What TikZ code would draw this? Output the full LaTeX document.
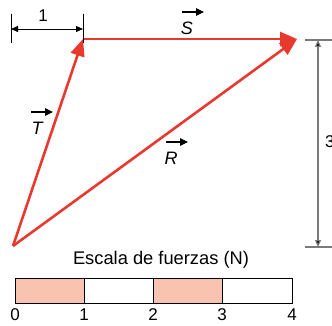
\documentclass[tikz,border=0pt]{standalone}
\usepackage{fontspec}
\setmainfont{Liberation Sans}
\usetikzlibrary{arrows.meta}
\definecolor{vred}{HTML}{E8392F}
\definecolor{barfill}{HTML}{F8C4B0}
\definecolor{dimgray}{HTML}{7A7A7A}
\tikzset{
  vec/.style={draw=vred, line width=2.6pt, -{Triangle[length=17pt,width=14pt]}},
  veclabel/.style={font=\fontsize{18}{18}\selectfont\itshape, inner sep=0pt},
  vecmark/.style={draw=black, line width=1.1pt, -{Triangle[length=8pt,width=7.5pt]}},
  dimline/.style={draw=black, line width=0.8pt, {Triangle[length=7pt,width=6pt]}-{Triangle[length=7pt,width=6pt]}},
  tick/.style={draw=black, line width=0.8pt},
  gtick/.style={draw=dimgray, line width=1.2pt},
  num/.style={font=\fontsize{17}{17}\selectfont, inner sep=0pt},
  cell/.style={draw=black, line width=1pt},
}
\begin{document}
\begin{tikzpicture}[x=1pt,y=-1pt]
\useasboundingbox (0,0) rectangle (332,326);
% main points
\coordinate (O) at (13,246);
\coordinate (A) at (83,39);
\coordinate (B) at (297,39);
% vectors
\draw[vec] (O) -- (A);
\draw[vec] (A) -- (B);
\draw[vec] (O) -- (B);
% labels
\node[veclabel] (T) at (37,128) {T};
\node[veclabel] (S) at (187,28) {S};
\node[veclabel] (R) at (171,158) {R};
\draw[vecmark] ([xshift=-6pt,yshift=16pt]T.center) -- ++(22,0);
\draw[vecmark] ([xshift=-5pt,yshift=16pt]S.center) -- ++(22,0);
\draw[vecmark] ([xshift=-5pt,yshift=16pt]R.center) -- ++(22,0);
% dimension 1
\coordinate (d1a) at (11,14);
\coordinate (d1b) at (11,43);
\coordinate (d2a) at (83,14);
\coordinate (d2b) at (83,43);
\draw[tick] (d1a) -- (d1b);
\draw[tick] (d2a) -- (d2b);
\coordinate (p1) at (11,29);
\coordinate (p2) at (83,29);
\draw[dimline] (p1) -- (p2);
\node[num] (one) at (43,16) {1};
% dimension 3
\coordinate (h1a) at (305,40);
\coordinate (h1b) at (332,40);
\coordinate (h2a) at (305,247);
\coordinate (h2b) at (332,247);
\draw[gtick] (h1a) -- (h1b);
\draw[gtick] (h2a) -- (h2b);
\coordinate (q1) at (318,40);
\coordinate (q2) at (318,247);
\draw[dimline, draw=dimgray, line width=1.2pt, {Triangle[length=7pt,width=6pt,fill=black]}-{Triangle[length=7pt,width=6pt,fill=black]}] (q1) -- (q2);
\node[num, anchor=west] (three) at (325,142) {3};
% scale
\node[font=\fontsize{18.3}{18.3}\selectfont, inner sep=0pt] (title) at (161,260) {Escala de fuerzas (N)};
\draw[cell, fill=barfill] (15,278) rectangle (84,303);
\draw[cell] (84,278) rectangle (153,303);
\draw[cell, fill=barfill] (153,278) rectangle (222,303);
\draw[cell] (222,278) rectangle (292,303);
\node[num] (n0) at (15,315) {0};
\node[num] (n1) at (84,315) {1};
\node[num] (n2) at (153,315) {2};
\node[num] (n3) at (222,315) {3};
\node[num] (n4) at (292,315) {4};
\end{tikzpicture}
\end{document}
